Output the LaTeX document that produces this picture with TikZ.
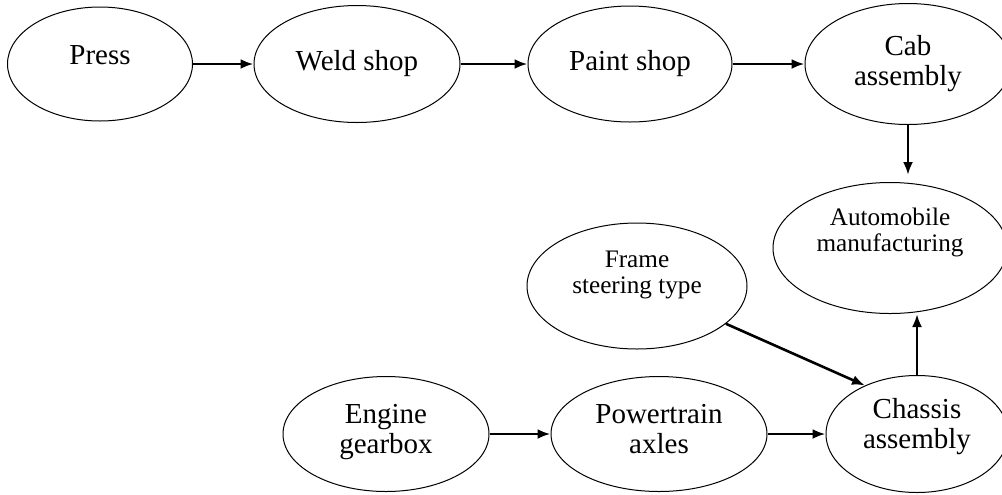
\documentclass[tikz,border=0pt]{standalone}
\usepackage{fontspec}
\setmainfont{Liberation Serif}
\usepackage{tikz}
\usetikzlibrary{positioning,shapes.geometric,arrows.meta,calc}

\newcommand{\bigtxt}{\fontsize{14.5pt}{15pt}\selectfont}
\newcommand{\smalltxt}{\fontsize{12.6pt}{13pt}\selectfont}

\tikzset{
  stage/.style={ellipse, draw, line width=0.5pt, inner sep=0pt, align=center, font=\bigtxt},
  textup/.style={execute at end node={\rule[-#1]{0pt}{#1}}},
  flow/.style={-{Latex[length=6.5pt,width=5pt]}, line width=1.3pt},
}

\begin{document}
\begin{tikzpicture}
\useasboundingbox (0,0) rectangle (501pt,-247pt);

% top line
\node(Press)   [stage, minimum width=92.5pt, minimum height=57pt, textup=9.5pt] at (50pt,-32pt) {Press};
\node(Weld)    [stage, minimum width=103pt, minimum height=58.5pt, right=30.25pt of Press] {Weld shop};
\node(Paint)   [stage, minimum width=102pt, minimum height=58pt, right=33.5pt of Weld]     {Paint shop};
\node(Cab)     [stage, minimum width=103pt, minimum height=60.5pt, right=36pt of Paint]    {Cab\\assembly};

% right side
\node(Auto)    [stage, font=\smalltxt, minimum width=117pt, minimum height=65.5pt, textup=18pt] at (445pt,-124pt) {Automobile\\manufacturing};
\node(Frame)   [stage, font=\smalltxt, minimum width=110pt, minimum height=63pt, textup=13.5pt] at (318.5pt,-143pt) {Frame\\steering type};

% bottom line
\node(Engine)  [stage, minimum width=103pt, minimum height=57.5pt, textup=5.5pt] at (193pt,-217pt) {Engine\\gearbox};
\node(Power)   [stage, minimum width=108pt, minimum height=57.5pt, textup=5.5pt, right=30.5pt of Engine] {Powertrain\\axles};
\node(Chassis) [stage, minimum width=91pt, minimum height=58.5pt, textup=10.5pt, right=29pt of Power]  {Chassis\\assembly};

\foreach \a/\b in {Press/Weld, Weld/Paint, Paint/Cab, Engine/Power, Power/Chassis} {
\draw[flow] (\a)--(\b);
}
\draw[flow, shorten >=3.5pt] (Cab.south) -- (Cab.south |- Auto.north);
\draw[flow] (Chassis.north) -- (Chassis.north |- Auto.south);
\draw[flow] (Frame.-23) -- (Chassis.137);
\end{tikzpicture}
\end{document}
